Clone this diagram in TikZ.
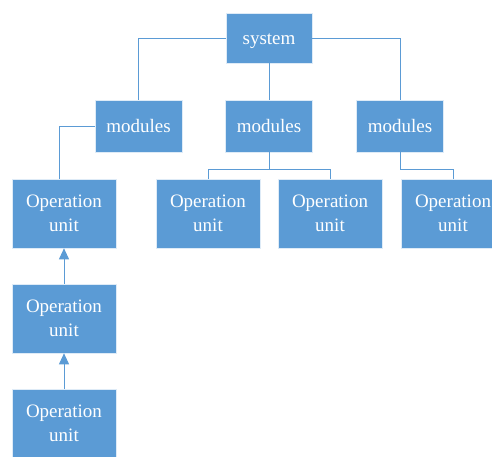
\documentclass[tikz,border=0pt]{standalone}
\usepackage{fontspec}
\setmainfont{Liberation Serif}
\usetikzlibrary{arrows.meta}
\definecolor{obl}{HTML}{5B9BD5}
\begin{document}
\begin{tikzpicture}[x=1pt,y=1pt,
  box/.style={fill=obl,draw=white!80!obl,line width=0.6pt,text=white,inner sep=0pt,
    font=\fontsize{19}{24}\selectfont,align=center},
  mod/.style={box,minimum width=87pt,minimum height=52pt},
  unitbox/.style={box,minimum width=104pt,minimum height=69pt},
  conn/.style={draw=obl,line width=0.9pt},
  arr/.style={conn,-{Triangle[width=10pt,length=11pt]}}]
\useasboundingbox (0,0) rectangle (492,456);
\node[mod,minimum width=86pt,minimum height=50pt,text height=18pt,text depth=4pt] (sys) at (269,418) {system};
\node[mod] (m1) at (138.5,330) {modules};
\node[mod] (m2) at (269,330) {modules};
\node[mod] (m3) at (400,330) {modules};
\node[unitbox] (u1) at (64,242.5) {Operation\\unit};
\node[unitbox] (u2) at (208,242.5) {Operation\\unit};
\node[unitbox] (u3) at (330,242.5) {Operation\\unit};
\node[unitbox] (u4) at (453,242.5) {Operation\\unit};
\node[unitbox] (v1) at (64,137.5) {Operation\\unit};
\node[unitbox] (w1) at (64,32.5) {Operation\\unit};
\draw[conn] (sys.west) -| (m1.north);
\draw[conn] (sys.east) -| (m3.north);
\draw[conn] (sys.south) -- (m2.north);
\draw[conn] (m1.west) -| ([xshift=-5pt]u1.north);
\draw[conn] (m2.south) -- ++(0,-17) coordinate (b2);
\draw[conn] (u2.north) |- (b2) -| (u3.north);
\draw[conn] (m3.south) -- ++(0,-17) -| (u4.north);
\draw[arr] (v1.north) -- (u1.south);
\draw[arr] (w1.north) -- (v1.south);
\end{tikzpicture}
\end{document}
